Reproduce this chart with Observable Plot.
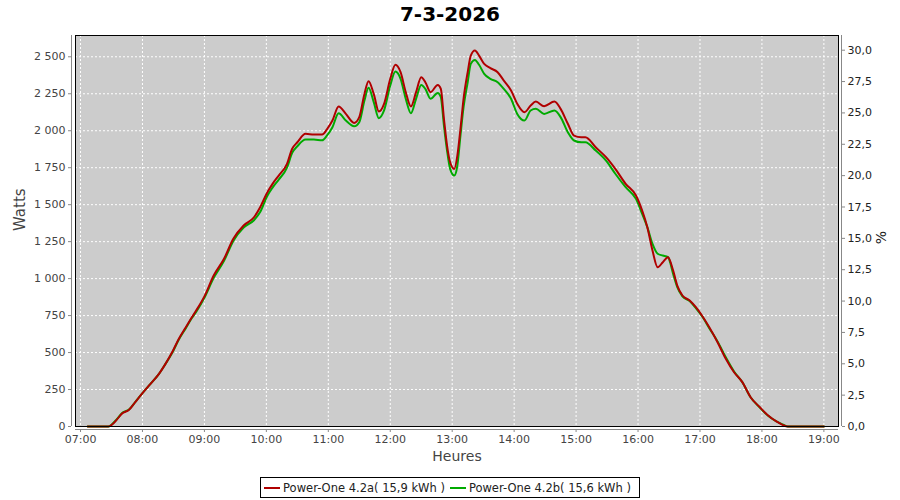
<!DOCTYPE html>
<html>
<head>
<meta charset="utf-8">
<script src="https://cdn.jsdelivr.net/npm/d3@7"></script>
<script src="https://cdn.jsdelivr.net/npm/@observablehq/plot@0.6"></script>
<style>
  html, body { margin: 0; padding: 0; background: #fff; }
  body { width: 900px; height: 500px; overflow: hidden; font-family: "DejaVu Sans", sans-serif; }
  #title { height: 28px; line-height: 28px; text-align: center; font-size: 20px; font-weight: bold; color: #000; }
  #legend { display: flex; justify-content: center; margin-top: 3px; }
  #legend .box { border: 1px solid #000; height: 19px; display: flex; align-items: center; padding: 0 4px 0 2px; font-size: 11.5px; color: #222; }
  #legend .sw { display: inline-block; width: 16px; height: 2px; margin: 0 3px 0 1px; }
  #legend .item { display: flex; align-items: center; margin-right: 4px; }
</style>
</head>
<body>
<div id="title">7-3-2026</div>
<div id="chart"></div>
<div id="legend"></div>
<script>
const times = ["07:07","07:27","07:30","07:35","07:40","07:47","07:53","08:00","08:08","08:16","08:22","08:29","08:35","08:42","08:48","08:52","09:00","09:09","09:19","09:28","09:38","09:48","09:54","10:01","10:06","10:12","10:20","10:25","10:30","10:38","10:46","10:54","10:59","11:04","11:10","11:17","11:25","11:30","11:35","11:39","11:44","11:49","11:54","12:00","12:05","12:10","12:15","12:20","12:25","12:30","12:34","12:39","12:46","12:49","12:52","12:55","12:58","13:02","13:05","13:08","13:11","13:15","13:18","13:22","13:26","13:31","13:37","13:44","13:50","13:57","14:03","14:10","14:16","14:21","14:29","14:39","14:45","14:52","14:58","15:05","15:09","15:19","15:29","15:38","15:48","15:58","16:04","16:09","16:14","16:19","16:24","16:29","16:34","16:38","16:43","16:50","16:56","17:03","17:09","17:17","17:25","17:33","17:41","17:49","17:58","18:06","18:14","18:20","18:25","19:00"];
const powerA = [0,0,10,45,86,113,165,225,290,356,420,505,590,671,740,784,880,1021,1134,1269,1359,1415,1483,1584,1641,1697,1776,1878,1922,1979,1974,1974,2013,2069,2164,2114,2053,2092,2249,2335,2249,2130,2182,2351,2446,2396,2261,2164,2261,2362,2328,2261,2310,2283,2080,1900,1787,1742,1832,2013,2216,2396,2508,2542,2508,2452,2423,2396,2339,2272,2182,2125,2170,2197,2166,2197,2148,2047,1967,1956,1956,1888,1821,1742,1641,1562,1460,1348,1190,1077,1111,1145,1055,953,886,852,807,739,671,570,458,367,300,198,130,74,34,11,0,0];
const powerB = [0,0,12,48,90,115,165,225,290,356,420,500,585,665,735,775,870,1005,1120,1255,1345,1395,1450,1560,1615,1670,1750,1850,1895,1940,1940,1935,1970,2024,2118,2069,2030,2058,2204,2290,2193,2085,2137,2306,2400,2351,2216,2118,2216,2310,2283,2216,2256,2227,2035,1866,1742,1697,1765,1967,2159,2328,2452,2479,2446,2385,2351,2328,2283,2216,2114,2069,2137,2148,2114,2137,2092,1990,1934,1922,1922,1866,1798,1709,1618,1539,1438,1348,1235,1168,1156,1145,1032,942,880,848,800,735,665,575,468,372,300,198,128,72,34,14,0,0];
const seriesNames = ["Power-One 4.2a( 15,9 kWh )", "Power-One 4.2b( 15,6 kWh )"];
const seriesColors = ["#b00000", "#00aa00"];
const hourTicks = [7,8,9,10,11,12,13,14,15,16,17,18,19];
const wattTicks = [0,250,500,750,1000,1250,1500,1750,2000,2250,2500];
const pctTicks = [0,2.5,5,7.5,10,12.5,15,17.5,20,22.5,25,27.5,30];

const toHour = s => { const [h, m] = s.split(":").map(Number); return h + m / 60; };
const rows = [];
times.forEach((t, i) => {
  rows.push({x: toHour(t), y: powerB[i], s: seriesNames[1]});
});
times.forEach((t, i) => {
  rows.push({x: toHour(t), y: powerA[i], s: seriesNames[0]});
});
const xDomain = [6.919, 19.236];
const yMax = 2644;
const wPerPct = 84.82;
const fmtW = v => d3.format(",")(v).replace(/,/g, " ");
const fmtH = h => String(h).padStart(2, "0") + ":00";
const fmtP = v => (v / wPerPct).toFixed(1).replace(".", ",");

const chart = Plot.plot({
  width: 900,
  height: 446,
  marginLeft: 75,
  marginRight: 62,
  marginTop: 7,
  marginBottom: 48,
  style: {fontFamily: "DejaVu Sans, sans-serif", fontSize: "11px", background: "#fff", overflow: "visible"},
  x: {domain: xDomain},
  y: {domain: [0, yMax]},
  color: {domain: seriesNames, range: seriesColors},
  marks: [
    Plot.frame({fill: "#cccccc"}),
    Plot.gridX(hourTicks, {stroke: "#fff", strokeOpacity: 1, strokeDasharray: "2,2"}),
    Plot.gridY(wattTicks, {stroke: "#fff", strokeOpacity: 1, strokeDasharray: "2,2"}),
    Plot.line(rows, {x: "x", y: "y", z: "s", stroke: "s", strokeWidth: 2, curve: "monotone-x"}),
    Plot.frame({stroke: "#000"}),
    Plot.ruleX([xDomain[0]], {dx: -4, stroke: "#888"}),
    Plot.ruleX([xDomain[1]], {dx: 3, stroke: "#888"}),
    Plot.ruleY([0], {dy: 3, stroke: "#888"}),
    Plot.axisY({ticks: wattTicks, tickFormat: fmtW, tickSize: 3, tickPadding: 3, dx: -4, label: null, stroke: "#888", fill: "#444"}),
    Plot.axisY({anchor: "right", ticks: pctTicks.map(p => p * wPerPct), tickFormat: fmtP, tickSize: 3, tickPadding: 3, dx: 3, label: null, stroke: "#888", fill: "#222"}),
    Plot.axisX({ticks: hourTicks, tickFormat: fmtH, tickSize: 3, tickPadding: 3, dy: 3, label: null, stroke: "#888", fill: "#444"}),
    Plot.text(["Watts"], {frameAnchor: "left", dx: -55, rotate: -90, fontSize: 15, fill: "#444"}),
    Plot.text(["%"], {frameAnchor: "right", dx: 43, rotate: -90, fontSize: 14, fill: "#222"}),
    Plot.text(["Heures"], {frameAnchor: "bottom", dy: 34, fontSize: 14, fill: "#444"})
  ]
});
document.getElementById("chart").appendChild(chart);

const legend = document.getElementById("legend");
const box = document.createElement("div");
box.className = "box";
seriesNames.forEach((n, i) => {
  const item = document.createElement("span");
  item.className = "item";
  const sw = document.createElement("span");
  sw.className = "sw";
  sw.style.background = seriesColors[i];
  item.appendChild(sw);
  item.appendChild(document.createTextNode(n));
  box.appendChild(item);
});
legend.appendChild(box);
</script>
</body>
</html>
